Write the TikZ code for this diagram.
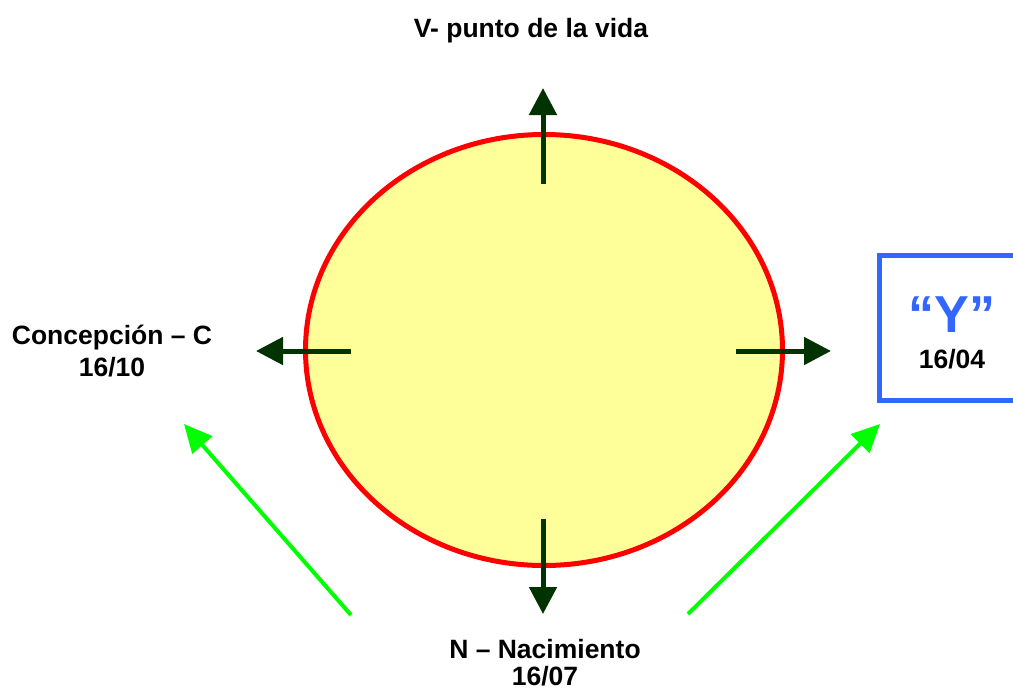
\documentclass[tikz,border=0pt]{standalone}
\usepackage{fontspec}
\setmainfont{Liberation Sans}
\usetikzlibrary{shapes.geometric,arrows.meta}
\definecolor{ellfill}{HTML}{FFFF99}
\definecolor{ellline}{HTML}{FF0000}
\definecolor{dkgreen}{HTML}{003300}
\definecolor{ltgreen}{HTML}{00FF00}
\definecolor{boxblue}{HTML}{3366FF}
\tikzset{
  lbl/.style={font=\fontsize{26.5}{32}\selectfont\bfseries, anchor=base, inner sep=0pt, align=center},
  darrow/.style={draw=dkgreen, line width=5pt, -{Triangle[length=27pt,width=27pt]}},
  garrow/.style={draw=ltgreen, line width=4pt, -{Triangle[length=28pt,width=26pt]}},
}
\begin{document}
\begin{tikzpicture}[x=1pt,y=-1pt]
\useasboundingbox (0,0) rectangle (1013,689);
\node (ell) [ellipse, draw=ellline, fill=ellfill, line width=5pt, minimum width=477pt, minimum height=431pt, inner sep=0pt] at (544,350) {};
% dark green arrows
\coordinate (us) at (543,184); \coordinate (ut) at (543,88);
\coordinate (ls) at (351,351); \coordinate (lt) at (256,351);
\coordinate (rs) at (736,351); \coordinate (rt) at (831,351);
\coordinate (ds) at (543,519); \coordinate (dt) at (543,614);
\draw[darrow] (us) -- (ut);
\draw[darrow] (ls) -- (lt);
\draw[darrow] (rs) -- (rt);
\draw[darrow] (ds) -- (dt);
% light green arrows
\coordinate (gls) at (351,615); \coordinate (glt) at (184,424);
\coordinate (grs) at (688,614); \coordinate (grt) at (880,424);
\draw[garrow] (gls) -- (glt);
\draw[garrow] (grs) -- (grt);
% labels
\node (v) [lbl] at (531,37) {V- punto de la vida};
\node (c1) [lbl] at (112,344) {Concepción – C};
\node (c2) [lbl] at (112,376) {16/10};
\node (n1) [lbl] at (545,658) {N – Nacimiento};
\node (n2) [lbl] at (545,685) {16/07};
% Y box
\node (ybox) [draw=boxblue, line width=5pt, minimum width=145.5pt, minimum height=145pt, inner sep=0pt] at (952.25,328) {};
\node (y) [anchor=base, inner sep=0pt, text=boxblue, font=\fontsize{52}{60}\selectfont\bfseries] at (952,332) {“Y”};
\node (y2) [lbl] at (952,368) {16/04};
\end{tikzpicture}
\end{document}
